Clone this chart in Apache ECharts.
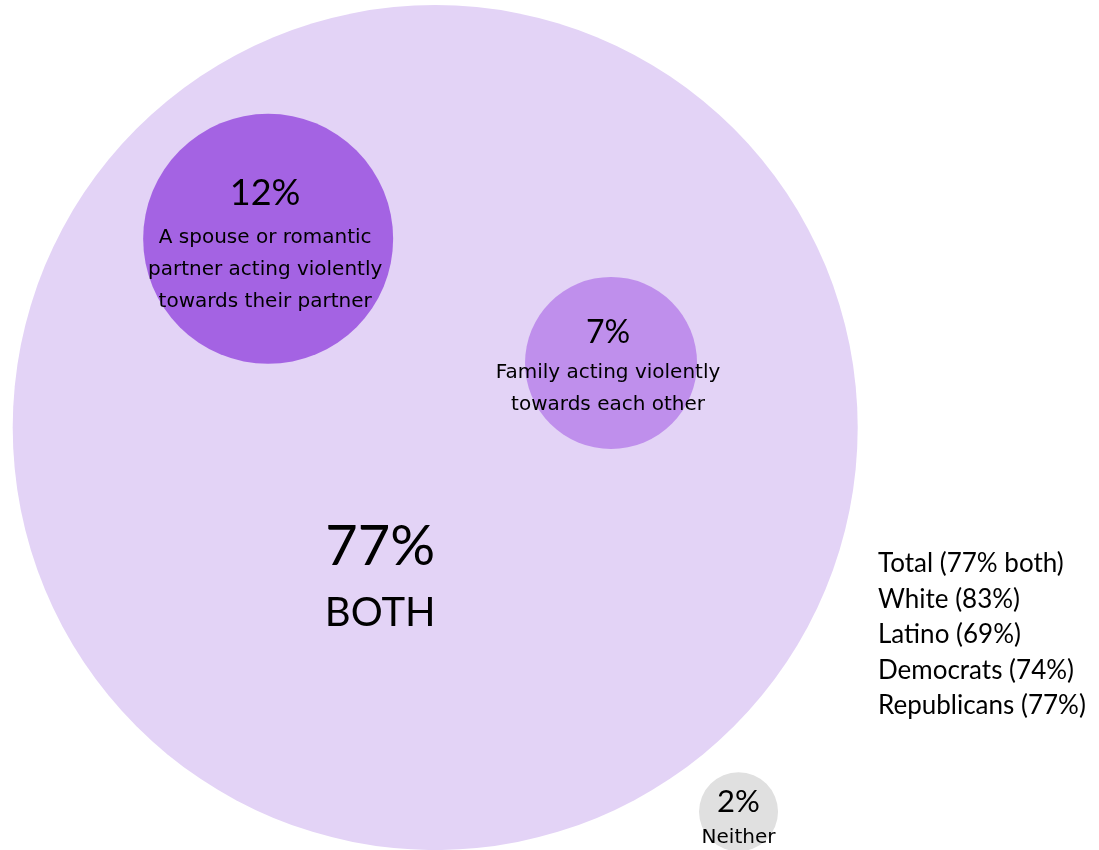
<!DOCTYPE html>
<html>
<head>
<meta charset="utf-8">
<title>Violence perception bubbles</title>
<script src="https://cdn.jsdelivr.net/npm/echarts@6/dist/echarts.min.js"></script>
<style>
    html, body { margin: 0; padding: 0; background: #fff; }
    #chart { width: 1099px; height: 850px; }
</style>
</head>
<body>
<div id="chart"></div>
<script>
// --- data ---
const bubbleNames = ['Both', 'Spouse', 'Family', 'Neither'];
const bubbleValues = [77, 12, 7, 2];
const bubbleCaptions = ['BOTH', 'A spouse or romantic\npartner acting violently\ntowards their partner', 'Family acting violently\ntowards each other', 'Neither'];
// bubble placement on a 0-100 layout grid
const bubbleX = [39.6, 24.4, 55.6, 67.2];
const bubbleY = [49.7, 71.9, 57.3, 4.5];

const groupNames = ['Total', 'White', 'Latino', 'Democrats', 'Republicans'];
const groupValues = [77, 83, 69, 74, 77];

// --- styles ---
const FONT = 'Lato, sans-serif';
const FONT_WIDE = '"DejaVu Sans", sans-serif';
const bubbleStyle = {
    Both:    { size: 845, color: '#E3D3F6', offset: [-55, 149], pct: 56, pctLine: 74, cap: 40, capLine: 60, capFont: FONT },
    Spouse:  { size: 250, color: '#A463E3', offset: [-3, 3],   pct: 36, pctLine: 56, cap: 20, capLine: 32, capFont: FONT_WIDE },
    Family:  { size: 172, color: '#BF8FEC', offset: [-3, 2],   pct: 32, pctLine: 48, cap: 20, capLine: 32, capFont: FONT_WIDE },
    Neither: { size: 79,  color: '#E0E0E0', offset: [0, 5],    pct: 31, pctLine: 42, cap: 20, capLine: 30, capFont: FONT_WIDE }
};

const chart = echarts.init(document.getElementById('chart'));

const seriesData = bubbleNames.map((name, i) => {
    const s = bubbleStyle[name];
    return {
        name: name,
        value: [bubbleX[i], bubbleY[i], bubbleValues[i]],
        symbolSize: s.size,
        itemStyle: { color: s.color, opacity: 1 },
        label: {
            show: true,
            position: 'inside',
            offset: s.offset,
            formatter: '{p|' + bubbleValues[i] + '%}\n{c|' + bubbleCaptions[i].split('\n').join('}\n{c|') + '}',
            rich: {
                p: { fontSize: s.pct, fontFamily: FONT, color: '#000', lineHeight: s.pctLine, align: 'center' },
                c: { fontSize: s.cap, fontFamily: s.capFont, color: '#000', lineHeight: s.capLine, align: 'center' }
            }
        }
    };
});

const groupText = groupNames.map((g, i) =>
    i === 0 ? g + ' (' + groupValues[i] + '% both)' : g + ' (' + groupValues[i] + '%)'
).join('\n');

chart.setOption({
    animation: false,
    grid: { left: 0, right: 0, top: 0, bottom: 0 },
    xAxis: { type: 'value', min: 0, max: 100, show: false },
    yAxis: { type: 'value', min: 0, max: 100, show: false },
    series: [{
        type: 'scatter',
        symbol: 'circle',
        silent: true,
        data: seriesData
    }],
    graphic: [{
        type: 'text',
        left: 878,
        top: 546,
        style: {
            text: groupText,
            fill: '#000',
            font: '26px ' + FONT,
            lineHeight: 35.5
        }
    }]
});
window.addEventListener('resize', () => chart.resize());
</script>
</body>
</html>
